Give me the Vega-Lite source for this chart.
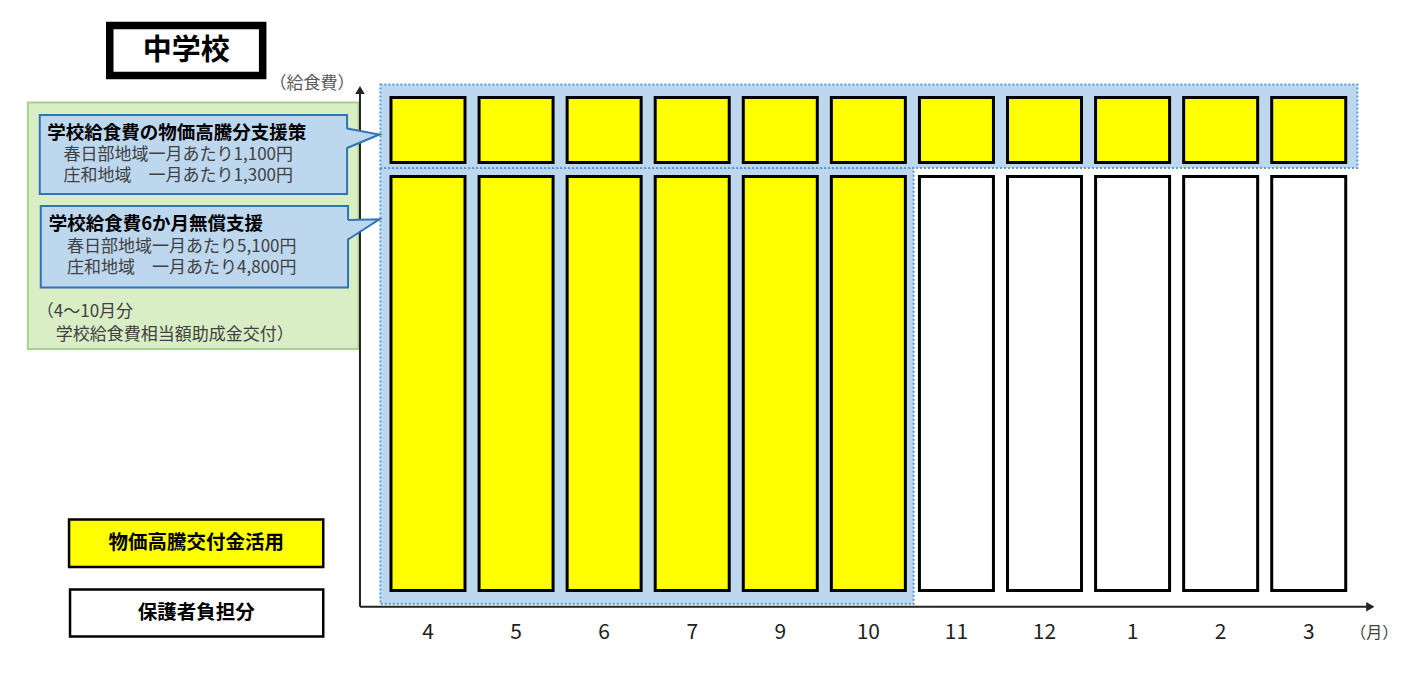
{
  "$schema": "https://vega.github.io/schema/vega-lite/v6.json",
  "width": 1417,
  "height": 675,
  "padding": 0,
  "autosize": {"type": "none"},
  "background": "#FFFFFF",
  "config": {"view": {"stroke": null}, "text": {"font": "Noto Sans CJK JP"}},
  "datasets": {
    "bars": [
      {"month": "4", "order": 1, "part": "lower", "fund": "物価高騰交付金活用", "from": 0, "to": 100},
      {"month": "5", "order": 2, "part": "lower", "fund": "物価高騰交付金活用", "from": 0, "to": 100},
      {"month": "6", "order": 3, "part": "lower", "fund": "物価高騰交付金活用", "from": 0, "to": 100},
      {"month": "7", "order": 4, "part": "lower", "fund": "物価高騰交付金活用", "from": 0, "to": 100},
      {"month": "9", "order": 5, "part": "lower", "fund": "物価高騰交付金活用", "from": 0, "to": 100},
      {"month": "10", "order": 6, "part": "lower", "fund": "物価高騰交付金活用", "from": 0, "to": 100},
      {"month": "11", "order": 7, "part": "lower", "fund": "保護者負担分", "from": 0, "to": 100},
      {"month": "12", "order": 8, "part": "lower", "fund": "保護者負担分", "from": 0, "to": 100},
      {"month": "1", "order": 9, "part": "lower", "fund": "保護者負担分", "from": 0, "to": 100},
      {"month": "2", "order": 10, "part": "lower", "fund": "保護者負担分", "from": 0, "to": 100},
      {"month": "3", "order": 11, "part": "lower", "fund": "保護者負担分", "from": 0, "to": 100},
      {"month": "4", "order": 1, "part": "upper", "fund": "物価高騰交付金活用", "from": 103.4, "to": 119.1},
      {"month": "5", "order": 2, "part": "upper", "fund": "物価高騰交付金活用", "from": 103.4, "to": 119.1},
      {"month": "6", "order": 3, "part": "upper", "fund": "物価高騰交付金活用", "from": 103.4, "to": 119.1},
      {"month": "7", "order": 4, "part": "upper", "fund": "物価高騰交付金活用", "from": 103.4, "to": 119.1},
      {"month": "9", "order": 5, "part": "upper", "fund": "物価高騰交付金活用", "from": 103.4, "to": 119.1},
      {"month": "10", "order": 6, "part": "upper", "fund": "物価高騰交付金活用", "from": 103.4, "to": 119.1},
      {"month": "11", "order": 7, "part": "upper", "fund": "物価高騰交付金活用", "from": 103.4, "to": 119.1},
      {"month": "12", "order": 8, "part": "upper", "fund": "物価高騰交付金活用", "from": 103.4, "to": 119.1},
      {"month": "1", "order": 9, "part": "upper", "fund": "物価高騰交付金活用", "from": 103.4, "to": 119.1},
      {"month": "2", "order": 10, "part": "upper", "fund": "物価高騰交付金活用", "from": 103.4, "to": 119.1},
      {"month": "3", "order": 11, "part": "upper", "fund": "物価高騰交付金活用", "from": 103.4, "to": 119.1}
    ],
    "legendBoxes": [
      {"fund": "物価高騰交付金活用", "x": -3.0755, "x2": -0.1894, "y": 17.15, "y2": 5.68, "tx": -1.6325, "ty": 11.4},
      {"fund": "保護者負担分", "x": -3.0643, "x2": -0.1894, "y": 0.24, "y2": -11.11, "tx": -1.6325, "ty": -5.43}
    ]
  },
  "layer": [
    {
      "data": {"values": [{"x": -3.5434, "x2": 0.2108, "y": 117.87, "y2": 58.33}]},
      "mark": {"type": "rect", "fill": "#D9EEC5", "stroke": "#A9D18E", "strokeWidth": 2},
      "encoding": {
        "x": {"field": "x", "type": "quantitative", "scale": {"domain": [-3.8027, 12.1725], "nice": false, "zero": false}, "axis": null},
        "x2": {"field": "x2"},
        "y": {"field": "y", "type": "quantitative", "scale": {"domain": [-20.41, 142.63], "nice": false, "zero": false}, "axis": null},
        "y2": {"field": "y2"}
      }
    },
    {
      "data": {"values": [
        {"area": "4〜10月", "x": 0.4589, "x2": 6.513, "y": 102.05, "y2": -3.261},
        {"area": "物価高騰分", "x": 0.4589, "x2": 11.5524, "y": 122.22, "y2": 102.05}
      ]},
      "mark": {"type": "rect", "fill": "#BDD7EE", "stroke": "#5B9BD5", "strokeWidth": 2, "strokeDash": [2, 2]},
      "encoding": {
        "x": {"field": "x", "type": "quantitative", "scale": {"domain": [-3.8027, 12.1725], "nice": false, "zero": false}, "axis": null},
        "x2": {"field": "x2"},
        "y": {"field": "y", "type": "quantitative", "scale": {"domain": [-20.41, 142.63], "nice": false, "zero": false}, "axis": null},
        "y2": {"field": "y2"}
      }
    },
    {
      "data": {"values": [
        {"x": 0.2277, "x2": 0.2277, "y": -3.913, "y2": 120.41},
        {"x": 0.2277, "x2": 11.665, "y": -3.913, "y2": -3.913}
      ]},
      "mark": {"type": "rule", "stroke": "#222222", "strokeWidth": 2},
      "encoding": {
        "x": {"field": "x", "type": "quantitative", "scale": {"domain": [-3.8027, 12.1725], "nice": false, "zero": false}, "axis": null},
        "x2": {"field": "x2"},
        "y": {"field": "y", "type": "quantitative", "scale": {"domain": [-20.41, 142.63], "nice": false, "zero": false}, "axis": null},
        "y2": {"field": "y2"}
      }
    },
    {
      "data": {"values": [
        {"x": 0.2277, "y": 120.89, "dir": "up"},
        {"x": 11.699, "y": -3.913, "dir": "right"}
      ]},
      "mark": {"type": "point", "filled": true, "size": 90, "color": "#222222", "opacity": 1},
      "encoding": {
        "x": {"field": "x", "type": "quantitative", "scale": {"domain": [-3.8027, 12.1725], "nice": false, "zero": false}, "axis": null},
        "y": {"field": "y", "type": "quantitative", "scale": {"domain": [-20.41, 142.63], "nice": false, "zero": false}, "axis": null},
        "shape": {"field": "dir", "type": "nominal", "scale": {"domain": ["up", "right"], "range": ["triangle-up", "triangle-right"]}, "legend": null}
      }
    },
    {
      "data": {"name": "bars"},
      "mark": {"type": "bar", "orient": "vertical", "width": 74, "stroke": "#000000", "strokeWidth": 3},
      "encoding": {
        "x": {"field": "order", "type": "quantitative", "scale": {"domain": [-3.8027, 12.1725], "nice": false, "zero": false}, "axis": null},
        "y": {"field": "from", "type": "quantitative", "scale": {"domain": [-20.41, 142.63], "nice": false, "zero": false}, "axis": null},
        "y2": {"field": "to"},
        "color": {"field": "fund", "type": "nominal", "scale": {"domain": ["物価高騰交付金活用", "保護者負担分"], "range": ["#FFFF00", "#FFFFFF"]}, "legend": null}
      }
    },
    {
      "data": {"name": "bars"},
      "transform": [{"filter": "datum.part == 'lower'"}],
      "mark": {"type": "text", "fontSize": 21, "color": "#222222", "align": "center", "baseline": "middle"},
      "encoding": {
        "x": {"field": "order", "type": "quantitative", "scale": {"domain": [-3.8027, 12.1725], "nice": false, "zero": false}, "axis": null},
        "y": {"datum": -10.27, "type": "quantitative", "scale": {"domain": [-20.41, 142.63], "nice": false, "zero": false}, "axis": null},
        "text": {"field": "month"}
      }
    },
    {
      "data": {"values": [
        {"x": -3.4081, "x2": 0.0812, "y": 114.86, "y2": 95.77},
        {"x": -3.3968, "x2": 0.0924, "y": 92.87, "y2": 73.19}
      ]},
      "mark": {"type": "rect", "fill": "#BDD7EE", "stroke": "#2E75B6", "strokeWidth": 2},
      "encoding": {
        "x": {"field": "x", "type": "quantitative", "scale": {"domain": [-3.8027, 12.1725], "nice": false, "zero": false}, "axis": null},
        "x2": {"field": "x2"},
        "y": {"field": "y", "type": "quantitative", "scale": {"domain": [-20.41, 142.63], "nice": false, "zero": false}, "axis": null},
        "y2": {"field": "y2"}
      }
    },
    {
      "data": {"values": [
        {"ptr": 1, "x": 0.0586, "y": 111.59, "y2": 106.88},
        {"ptr": 1, "x": 0.4476, "y": 110.14, "y2": 110.14},
        {"ptr": 2, "x": 0.0699, "y": 89.49, "y2": 84.78},
        {"ptr": 2, "x": 0.4476, "y": 89.66, "y2": 89.66}
      ]},
      "mark": {"type": "area", "orient": "vertical", "fill": "#BDD7EE", "opacity": 1},
      "encoding": {
        "x": {"field": "x", "type": "quantitative", "scale": {"domain": [-3.8027, 12.1725], "nice": false, "zero": false}, "axis": null},
        "y": {"field": "y", "type": "quantitative", "scale": {"domain": [-20.41, 142.63], "nice": false, "zero": false}, "axis": null},
        "y2": {"field": "y2"},
        "detail": {"field": "ptr", "type": "nominal"}
      }
    },
    {
      "data": {"values": [
        {"ptr": 1, "seq": 1, "x": 0.0812, "y": 111.59},
        {"ptr": 1, "seq": 2, "x": 0.4476, "y": 110.14},
        {"ptr": 1, "seq": 3, "x": 0.0812, "y": 106.88},
        {"ptr": 2, "seq": 1, "x": 0.0924, "y": 89.49},
        {"ptr": 2, "seq": 2, "x": 0.4476, "y": 89.66},
        {"ptr": 2, "seq": 3, "x": 0.0924, "y": 84.78}
      ]},
      "mark": {"type": "line", "stroke": "#2E75B6", "strokeWidth": 2},
      "encoding": {
        "x": {"field": "x", "type": "quantitative", "scale": {"domain": [-3.8027, 12.1725], "nice": false, "zero": false}, "axis": null},
        "y": {"field": "y", "type": "quantitative", "scale": {"domain": [-20.41, 142.63], "nice": false, "zero": false}, "axis": null},
        "detail": {"field": "ptr", "type": "nominal"},
        "order": {"field": "seq", "type": "quantitative"}
      }
    },
    {
      "data": {"values": [
        {"text": "学校給食費の物価高騰分支援策", "x": -3.3236, "y": 110.39},
        {"text": "学校給食費6か月無償支援", "x": -3.3067, "y": 88.53}
      ]},
      "mark": {"type": "text", "fontSize": 18.5, "fontWeight": "bold", "color": "#000000", "align": "left", "baseline": "middle"},
      "encoding": {
        "x": {"field": "x", "type": "quantitative", "scale": {"domain": [-3.8027, 12.1725], "nice": false, "zero": false}, "axis": null},
        "y": {"field": "y", "type": "quantitative", "scale": {"domain": [-20.41, 142.63], "nice": false, "zero": false}, "axis": null},
        "text": {"field": "text"}
      }
    },
    {
      "data": {"values": [
        {"text": "春日部地域一月あたり1,100円", "x": -3.1375, "y": 105.19},
        {"text": "庄和地域　一月あたり1,300円", "x": -3.1375, "y": 100.0},
        {"text": "春日部地域一月あたり5,100円", "x": -3.0981, "y": 82.97},
        {"text": "庄和地域　一月あたり4,800円", "x": -3.0981, "y": 77.9},
        {"text": "（4～10月分", "x": -3.4419, "y": 67.34},
        {"text": "学校給食費相当額助成金交付）", "x": -3.2277, "y": 61.71}
      ]},
      "mark": {"type": "text", "fontSize": 17, "color": "#404040", "align": "left", "baseline": "middle"},
      "encoding": {
        "x": {"field": "x", "type": "quantitative", "scale": {"domain": [-3.8027, 12.1725], "nice": false, "zero": false}, "axis": null},
        "y": {"field": "y", "type": "quantitative", "scale": {"domain": [-20.41, 142.63], "nice": false, "zero": false}, "axis": null},
        "text": {"field": "text"}
      }
    },
    {
      "data": {"values": [{"x": -2.6133, "x2": -0.8771, "y": 136.47, "y2": 124.4}]},
      "mark": {"type": "rect", "fill": "#FFFFFF", "stroke": "#000000", "strokeWidth": 7.5},
      "encoding": {
        "x": {"field": "x", "type": "quantitative", "scale": {"domain": [-3.8027, 12.1725], "nice": false, "zero": false}, "axis": null},
        "x2": {"field": "x2"},
        "y": {"field": "y", "type": "quantitative", "scale": {"domain": [-20.41, 142.63], "nice": false, "zero": false}, "axis": null},
        "y2": {"field": "y2"}
      }
    },
    {
      "data": {"values": [{"text": "中学校", "x": -1.7452, "y": 130.43}]},
      "mark": {"type": "text", "fontSize": 29, "fontWeight": "bold", "color": "#000000", "align": "center", "baseline": "middle"},
      "encoding": {
        "x": {"field": "x", "type": "quantitative", "scale": {"domain": [-3.8027, 12.1725], "nice": false, "zero": false}, "axis": null},
        "y": {"field": "y", "type": "quantitative", "scale": {"domain": [-20.41, 142.63], "nice": false, "zero": false}, "axis": null},
        "text": {"field": "text"}
      }
    },
    {
      "data": {"values": [{"text": "（給食費）", "x": 0.1657, "y": 122.34}]},
      "mark": {"type": "text", "fontSize": 17, "color": "#595959", "align": "right", "baseline": "middle"},
      "encoding": {
        "x": {"field": "x", "type": "quantitative", "scale": {"domain": [-3.8027, 12.1725], "nice": false, "zero": false}, "axis": null},
        "y": {"field": "y", "type": "quantitative", "scale": {"domain": [-20.41, 142.63], "nice": false, "zero": false}, "axis": null},
        "text": {"field": "text"}
      }
    },
    {
      "data": {"values": [{"text": "（月）", "x": 11.744, "y": -10.27}]},
      "mark": {"type": "text", "fontSize": 16, "color": "#404040", "align": "center", "baseline": "middle"},
      "encoding": {
        "x": {"field": "x", "type": "quantitative", "scale": {"domain": [-3.8027, 12.1725], "nice": false, "zero": false}, "axis": null},
        "y": {"field": "y", "type": "quantitative", "scale": {"domain": [-20.41, 142.63], "nice": false, "zero": false}, "axis": null},
        "text": {"field": "text"}
      }
    },
    {
      "data": {"name": "legendBoxes"},
      "mark": {"type": "rect", "stroke": "#000000", "strokeWidth": 2.5},
      "encoding": {
        "x": {"field": "x", "type": "quantitative", "scale": {"domain": [-3.8027, 12.1725], "nice": false, "zero": false}, "axis": null},
        "x2": {"field": "x2"},
        "y": {"field": "y", "type": "quantitative", "scale": {"domain": [-20.41, 142.63], "nice": false, "zero": false}, "axis": null},
        "y2": {"field": "y2"},
        "color": {"field": "fund", "type": "nominal", "scale": {"domain": ["物価高騰交付金活用", "保護者負担分"], "range": ["#FFFF00", "#FFFFFF"]}, "legend": null}
      }
    },
    {
      "data": {"name": "legendBoxes"},
      "mark": {"type": "text", "fontSize": 19.5, "fontWeight": "bold", "color": "#000000", "align": "center", "baseline": "middle"},
      "encoding": {
        "x": {"field": "tx", "type": "quantitative", "scale": {"domain": [-3.8027, 12.1725], "nice": false, "zero": false}, "axis": null},
        "y": {"field": "ty", "type": "quantitative", "scale": {"domain": [-20.41, 142.63], "nice": false, "zero": false}, "axis": null},
        "text": {"field": "fund"}
      }
    }
  ]
}
